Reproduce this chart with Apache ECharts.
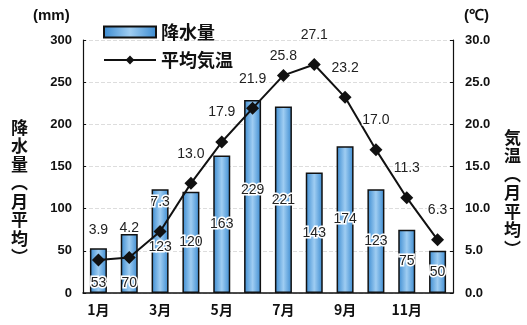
<!DOCTYPE html>
<html><head><meta charset="utf-8">
<script src="https://cdn.jsdelivr.net/npm/echarts@6/dist/echarts.min.js"></script>
<style>html,body{margin:0;padding:0;background:#fff}#c{width:527px;height:325px}</style>
</head><body><div id="c"></div>
<script>
const months = ['1月','2月','3月','4月','5月','6月','7月','8月','9月','10月','11月','12月'];
const precipitation = [53, 70, 123, 120, 163, 229, 221, 143, 174, 123, 75, 50];
const temperature = [3.9, 4.2, 7.3, 13.0, 17.9, 21.9, 25.8, 27.1, 23.2, 17.0, 11.3, 6.3];
const leftTicks = [0, 50, 100, 150, 200, 250, 300];
const rightTicks = [0, 5, 10, 15, 20, 25, 30];

const FONT = '"Liberation Sans", Arial, sans-serif';
const JP = '"Noto Sans CJK JP", sans-serif';
const barFill = new echarts.graphic.LinearGradient(0, 0, 1, 0, [
  {offset: 0, color: '#3a8ad0'},
  {offset: 0.5, color: '#9fcdf2'},
  {offset: 1, color: '#3a8ad0'}
]);
const barLabelOffsets = {0: [0, 12], 1: [0, 20], 2: [0, 6], 5: [0, -6]};

const chart = echarts.init(document.getElementById('c'), null, {renderer: 'canvas'});
chart.setOption({
  animation: false,
  backgroundColor: '#fff',
  grid: {left: 83, right: 74, top: 40, bottom: 32, containLabel: false},
  legend: {
    orient: 'vertical', left: 98, top: 16, itemGap: 6,
    itemWidth: 52, itemHeight: 11,
    textStyle: {fontFamily: JP, fontSize: 18, fontWeight: 'bold', color: '#111', lineHeight: 22},
    data: [{name: '降水量', icon: 'rect'}, {name: '平均気温'}]
  },
  xAxis: {
    type: 'category', data: months,
    axisLine: {lineStyle: {color: '#111', width: 1.5}},
    axisTick: {show: false},
    axisLabel: {interval: 1, color: '#111', fontFamily: JP, fontWeight: 'bold', fontSize: 14, margin: 10}
  },
  yAxis: [{
    type: 'value', min: 0, max: 300, interval: 50,
    axisLine: {show: true, lineStyle: {color: '#111', width: 1.2}},
    axisTick: {show: true, inside: true, length: 3, lineStyle: {color: '#111'}},
    axisLabel: {color: '#111', fontFamily: FONT, fontWeight: 'bold', fontSize: 13, margin: 11,
      formatter: v => leftTicks.includes(v) ? String(v) : ''},
    splitLine: {show: true, lineStyle: {color: '#ddd', type: 'dashed', width: 1}}
  }, {
    type: 'value', min: 0, max: 30, interval: 5, position: 'right',
    axisLine: {show: true, lineStyle: {color: '#111', width: 1.2}},
    axisTick: {show: true, inside: true, length: 3, lineStyle: {color: '#111'}},
    axisLabel: {color: '#111', fontFamily: FONT, fontWeight: 'bold', fontSize: 13, margin: 12,
      formatter: v => rightTicks.includes(v) ? v.toFixed(1) : ''},
    splitLine: {show: false}
  }],
  series: [{
    name: '降水量', type: 'bar', yAxisIndex: 0, barWidth: 17,
    itemStyle: {color: barFill, borderColor: '#111', borderWidth: 1.5},
    data: precipitation.map((v, i) => ({
      value: v,
      label: barLabelOffsets[i] ? {offset: barLabelOffsets[i]} : undefined
    })),
    label: {show: true, position: 'inside', color: '#222', fontFamily: FONT, fontSize: 14,
      textBorderColor: '#fff', textBorderWidth: 3},
    z: 2
  }, {
    name: '平均気温', type: 'line', yAxisIndex: 1,
    data: temperature.map((v, i) => ({
      value: v,
      label: i === 6 ? {distance: 6} : undefined
    })),
    symbol: 'diamond', symbolSize: 13,
    lineStyle: {color: '#111', width: 2},
    itemStyle: {color: '#111'},
    label: {show: true, position: 'top', distance: 16, color: '#222', fontFamily: FONT, fontSize: 14,
      formatter: p => p.value.toFixed(1), textBorderColor: '#fff', textBorderWidth: 3},
    z: 3
  }],
  graphic: [
    {type: 'text', left: 33, top: 8, style: {text: '(mm)', font: 'bold 15px ' + FONT, fill: '#111'}},
    {type: 'text', left: 464, top: 8, style: {text: '(℃)', font: 'bold 15px ' + FONT, fill: '#111'}},
    {type: 'text', left: 11, top: 118, style: {text: '降\n水\n量\n︵\n月\n平\n均\n︶', font: 'bold 17px ' + JP, lineHeight: 18.5, fill: '#111', align: 'center'}},
    {type: 'text', left: 504, top: 128, style: {text: '気\n温\n︵\n月\n平\n均\n︶', font: 'bold 17px ' + JP, lineHeight: 18.5, fill: '#111'}}
  ]
});
</script></body></html>
